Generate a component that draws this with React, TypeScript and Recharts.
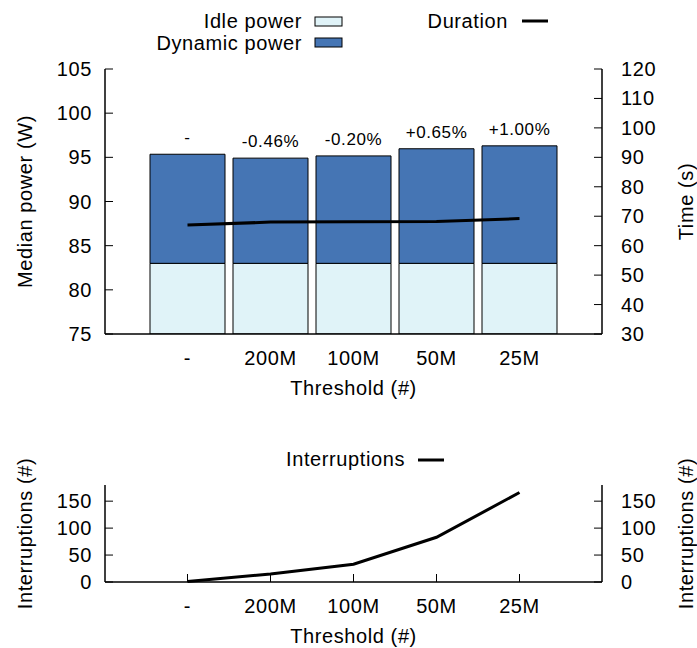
import React from "react";
import {
  ComposedChart,
  Bar,
  Line,
  XAxis,
  YAxis,
  Legend,
  LabelList,
} from "recharts";

const categories = ["-", "200M", "100M", "50M", "25M"];
const idlePower = [83, 83, 83, 83, 83];
const dynamicPower = [12.35, 11.91, 12.16, 12.97, 13.3];
const duration = [67.0, 68.0, 68.1, 68.2, 69.2];
const deltaLabels = ["-", "-0.46%", "-0.20%", "+0.65%", "+1.00%"];
const interruptions = [1, 15, 33, 83, 166];

const powerTicks = [75, 80, 85, 90, 95, 100, 105];
const timeTicks = [30, 40, 50, 60, 70, 80, 90, 100, 110, 120];
const interruptionTicks = [0, 50, 100, 150];

const IDLE = "#e0f3f8";
const DYNAMIC = "#4575b4";
const FONT = 20;
const SPACING = 0.6;
const TICK_LEN = 8;

const powerData = categories.map((name, i) => ({
  name,
  idle: idlePower[i],
  dynamic: dynamicPower[i],
  duration: duration[i],
  delta: deltaLabels[i],
}));

const interruptData = categories.map((name, i) => ({
  name,
  interruptions: interruptions[i],
}));

const axisLine = { stroke: "#000", strokeWidth: 1.5 };
const pad = { left: 41, right: 41 };

// gnuplot-style ticks: the mark points into the plot, the label sits outside.
// x/y handed in by recharts is the axis edge because tickSize/tickMargin are 0
function LeftTick({ x, y, payload }: any) {
  return (
    <g>
      <line x1={x} x2={x + TICK_LEN} y1={y} y2={y} stroke="#000" />
      <text x={x - 13} y={y} textAnchor="end" dominantBaseline="central"
        fontSize={FONT} letterSpacing={SPACING} fill="#000">
        {payload.value}
      </text>
    </g>
  );
}

function RightTick({ x, y, payload }: any) {
  return (
    <g>
      <line x1={x - TICK_LEN} x2={x} y1={y} y2={y} stroke="#000" />
      <text x={x + 19} y={y} textAnchor="start" dominantBaseline="central"
        fontSize={FONT} letterSpacing={SPACING} fill="#000">
        {payload.value}
      </text>
    </g>
  );
}

function BottomTick({ x, y, payload, mark }: any) {
  return (
    <g>
      {mark && <line x1={x} x2={x} y1={y - TICK_LEN} y2={y} stroke="#000" />}
      <text x={x} y={y + 24} textAnchor="middle" dominantBaseline="central"
        fontSize={FONT} letterSpacing={SPACING} fill="#000">
        {payload.value}
      </text>
    </g>
  );
}

function TopTick({ x, y }: any) {
  return <line x1={x} x2={x} y1={y} y2={y + TICK_LEN} stroke="#000" />;
}

// rotated y-axis titles, centred on the axis box
function SideTitle(props: any) {
  const { viewBox, value, dx } = props;
  const cx = viewBox.x + dx;
  const cy = viewBox.y + viewBox.height / 2;
  return (
    <text
      x={cx}
      y={cy}
      transform={`rotate(-90 ${cx} ${cy})`}
      textAnchor="middle"
      dominantBaseline="central"
      fontSize={FONT}
      letterSpacing={SPACING}
      fill="#000"
    >
      {value}
    </text>
  );
}

function BottomTitle(props: any) {
  const { viewBox, value } = props;
  return (
    <text
      x={viewBox.x + viewBox.width / 2}
      y={viewBox.y + 54}
      textAnchor="middle"
      dominantBaseline="central"
      fontSize={FONT}
      letterSpacing={SPACING}
      fill="#000"
    >
      {value}
    </text>
  );
}

function PowerLegend() {
  return (
    <svg width={697} height={60} style={{ display: "block" }}>
      <g fontSize={FONT} letterSpacing={SPACING} fill="#000">
        <text x={302} y={28} textAnchor="end">Idle power</text>
        <rect x={315} y={17} width={27} height={9} fill={IDLE} stroke="#000" />
        <text x={302} y={50} textAnchor="end">Dynamic power</text>
        <rect x={315} y={38} width={27} height={9} fill={DYNAMIC} stroke="#000" />
        <text x={508} y={28} textAnchor="end">Duration</text>
        <line x1={522} x2={548} y1={21} y2={21} stroke="#000" strokeWidth={3} />
      </g>
    </svg>
  );
}

function InterruptLegend() {
  return (
    <svg width={697} height={60} style={{ display: "block" }}>
      <g fontSize={FONT} letterSpacing={SPACING} fill="#000">
        <text x={405} y={46} textAnchor="end">Interruptions</text>
        <line x1={418} x2={444} y1={40} y2={40} stroke="#000" strokeWidth={3} />
      </g>
    </svg>
  );
}

export default function App() {
  return (
    <div
      style={{
        position: "absolute",
        left: 0,
        top: 0,
        width: 697,
        height: 648,
        background: "#fff",
        fontFamily: "'Liberation Sans', Arial, sans-serif",
      }}
    >
      <div style={{ position: "absolute", left: 0, top: 0 }}>
        <ComposedChart
          width={697}
          height={410}
          data={powerData}
          margin={{ top: 69, right: 0, bottom: 6, left: 0 }}
        >
          <XAxis
            xAxisId="bottom"
            dataKey="name"
            scale="band"
            padding={pad}
            height={70}
            interval={0}
            axisLine={axisLine}
            tickLine={false}
            tickSize={0}
            tickMargin={0}
            tick={<BottomTick mark={false} />}
            label={<BottomTitle value="Threshold (#)" />}
          />
          <XAxis
            xAxisId="top"
            dataKey="name"
            orientation="top"
            scale="band"
            padding={pad}
            height={0}
            interval={0}
            axisLine={axisLine}
            tickLine={false}
            tickSize={0}
            tickMargin={0}
            tick={<TopTick />}
          />
          <YAxis
            yAxisId="left"
            width={105}
            domain={[75, 105]}
            ticks={powerTicks}
            allowDataOverflow
            interval={0}
            axisLine={axisLine}
            tickLine={false}
            tickSize={0}
            tickMargin={0}
            tick={<LeftTick />}
            label={<SideTitle value="Median power (W)" dx={25} />}
          />
          <YAxis
            yAxisId="right"
            orientation="right"
            width={95}
            domain={[30, 120]}
            ticks={timeTicks}
            interval={0}
            axisLine={axisLine}
            tickLine={false}
            tickSize={0}
            tickMargin={0}
            tick={<RightTick />}
            label={<SideTitle value="Time (s)" dx={84} />}
          />
          <Bar
            xAxisId="bottom"
            yAxisId="left"
            dataKey="idle"
            stackId="power"
            fill={IDLE}
            stroke="#000"
            strokeWidth={1}
            barSize={75}
            isAnimationActive={false}
          />
          <Bar
            xAxisId="bottom"
            yAxisId="left"
            dataKey="dynamic"
            stackId="power"
            fill={DYNAMIC}
            stroke="#000"
            strokeWidth={1}
            barSize={75}
            isAnimationActive={false}
          >
            <LabelList
              dataKey="delta"
              position="top"
              offset={11}
              fontSize={17}
              letterSpacing={SPACING}
              fill="#000"
            />
          </Bar>
          <Line
            xAxisId="bottom"
            yAxisId="right"
            dataKey="duration"
            stroke="#000"
            strokeWidth={3}
            dot={false}
            activeDot={false}
            isAnimationActive={false}
          />
          <Legend
            layout="horizontal"
            verticalAlign="middle"
            align="center"
            content={PowerLegend}
            wrapperStyle={{ top: 0, left: 0, width: 697, height: 60 }}
          />
        </ComposedChart>
      </div>

      <div style={{ position: "absolute", left: 0, top: 420 }}>
        <ComposedChart
          width={697}
          height={228}
          data={interruptData}
          margin={{ top: 65, right: 0, bottom: 4, left: 0 }}
        >
          <XAxis
            xAxisId="bottom"
            dataKey="name"
            scale="band"
            padding={pad}
            height={62}
            interval={0}
            axisLine={axisLine}
            tickLine={false}
            tickSize={0}
            tickMargin={0}
            tick={<BottomTick mark />}
            label={<BottomTitle value="Threshold (#)" />}
          />
          <XAxis
            xAxisId="top"
            dataKey="name"
            orientation="top"
            scale="band"
            padding={pad}
            height={0}
            interval={0}
            axisLine={axisLine}
            tickLine={false}
            tickSize={0}
            tickMargin={0}
            tick={<TopTick />}
          />
          <YAxis
            yAxisId="left"
            width={105}
            domain={[0, 180]}
            ticks={interruptionTicks}
            interval={0}
            axisLine={axisLine}
            tickLine={false}
            tickSize={0}
            tickMargin={0}
            tick={<LeftTick />}
            label={<SideTitle value="Interruptions (#)" dx={25} />}
          />
          <YAxis
            yAxisId="right"
            orientation="right"
            width={95}
            domain={[0, 180]}
            ticks={interruptionTicks}
            interval={0}
            axisLine={axisLine}
            tickLine={false}
            tickSize={0}
            tickMargin={0}
            tick={<RightTick />}
            label={<SideTitle value="Interruptions (#)" dx={84} />}
          />
          <Line
            xAxisId="bottom"
            yAxisId="left"
            dataKey="interruptions"
            stroke="#000"
            strokeWidth={3}
            dot={false}
            activeDot={false}
            isAnimationActive={false}
          />
          {/* same series bound to the mirrored right axis so it gets its ticks */}
          <Line
            xAxisId="top"
            yAxisId="right"
            dataKey="interruptions"
            stroke="none"
            dot={false}
            activeDot={false}
            legendType="none"
            isAnimationActive={false}
          />
          <Legend
            layout="horizontal"
            verticalAlign="middle"
            align="center"
            content={InterruptLegend}
            wrapperStyle={{ top: 0, left: 0, width: 697, height: 60 }}
          />
        </ComposedChart>
      </div>
    </div>
  );
}
